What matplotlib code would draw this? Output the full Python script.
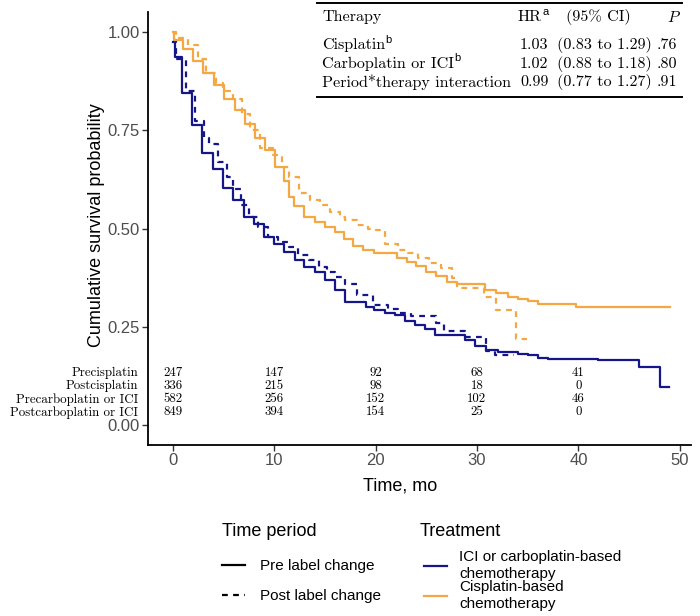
import matplotlib
matplotlib.use('Agg')
import matplotlib.pyplot as plt
from matplotlib.lines import Line2D

plt.rcParams['mathtext.fontset'] = 'cm'

# --- survival curves (time of each drop, survival after the drop) ---
pre_cis_t = [0, 0.1, 1.0, 2.0, 3.0, 4.1, 5.1, 6.1, 7.1, 8.1, 9.1, 10.1, 11.0, 11.5, 12.0, 13.0, 14.0, 15.0,
             16.0, 16.9, 17.8, 18.8, 19.9, 22.1, 23.1, 24.0, 25.0, 26.0, 27.0, 28.0, 30.8, 31.9, 33.1,
             34.0, 35.0, 36.0, 39.8]
pre_cis_s = [1.0, 0.98, 0.955, 0.925, 0.895, 0.865, 0.83, 0.80, 0.765, 0.73, 0.70, 0.655, 0.62, 0.581, 0.556,
             0.530, 0.517, 0.503, 0.492, 0.473, 0.456, 0.445, 0.437, 0.425, 0.415, 0.405, 0.39, 0.38, 0.365,
             0.36, 0.345, 0.335, 0.326, 0.32, 0.316, 0.309, 0.301]
pre_cis_end = 49.0

post_cis_t = [0, 0.3, 1.5, 2.5, 3.3, 4.3, 5.0, 6.0, 6.8, 7.6, 8.6, 9.9, 10.8, 11.5, 12.5, 13.5, 14.5, 15.5,
              16.5, 17.0, 18.2, 19.3, 20.0, 20.9, 22.2, 23.2, 24.2, 25.3, 26.5, 27.5, 28.0, 30.7, 31.9, 33.9]
post_cis_s = [1.0, 0.985, 0.965, 0.93, 0.895, 0.87, 0.85, 0.83, 0.79, 0.75, 0.705, 0.686, 0.657, 0.63, 0.589,
              0.572, 0.560, 0.543, 0.530, 0.522, 0.509, 0.50, 0.496, 0.461, 0.445, 0.437, 0.424, 0.412, 0.40,
              0.373, 0.35, 0.326, 0.293, 0.219]
post_cis_end = 34.9

pre_ici_t = [0, 0.2, 0.9, 1.9, 2.9, 4.0, 5.0, 6.0, 7.0, 8.0, 9.0, 10.0, 11.0, 12.05, 13.0, 14.0, 15.0, 16.0,
             17.0, 19.1, 19.9, 20.9, 21.9, 22.9, 23.9, 24.9, 25.9, 28.8, 29.8, 30.9, 32.1, 34.0, 35.0, 36.0,
             37.0, 41.9, 46.0, 48.0]
pre_ici_s = [0.975, 0.935, 0.844, 0.763, 0.692, 0.651, 0.602, 0.572, 0.530, 0.511, 0.479, 0.46, 0.441, 0.42,
             0.403, 0.39, 0.37, 0.344, 0.314, 0.301, 0.293, 0.286, 0.28, 0.265, 0.255, 0.245, 0.229, 0.216,
             0.201, 0.191, 0.186, 0.182, 0.178, 0.172, 0.168, 0.165, 0.148, 0.098]
pre_ici_end = 48.9

post_ici_t = [0, 0.3, 1.3, 2.2, 3.1, 3.6, 4.5, 5.4, 6.0, 6.7, 7.5, 8.4, 9.4, 10.4, 11.5, 12.4, 13.4, 14.4,
              15.2, 16.0, 17.0, 18.2, 19.8, 21.2, 22.2, 23.5, 26.0, 26.8, 28.8, 30.9, 31.8]
post_ici_s = [0.98, 0.93, 0.85, 0.772, 0.73, 0.714, 0.67, 0.63, 0.60, 0.56, 0.53, 0.503, 0.478, 0.465, 0.453,
              0.433, 0.42, 0.403, 0.39, 0.378, 0.36, 0.331, 0.306, 0.295, 0.285, 0.277, 0.259, 0.24, 0.225,
              0.19, 0.178]
post_ici_end = 33.7

# --- numbers at risk ---
risk_times = [0, 10, 20, 30, 40]
risk_labels = ['Precisplatin', 'Postcisplatin', 'Precarboplatin or ICI', 'Postcarboplatin or ICI']
risk_counts = [[247, 147, 92, 68, 41],
               [336, 215, 98, 18, 0],
               [582, 256, 152, 102, 46],
               [849, 394, 154, 25, 0]]

# --- hazard ratio table ---
hr_header = ['Therapy', 'HR', '(95% CI)', r'$P$']
hr_header_sup = ['', 'a', '', '']
hr_rows = ['Cisplatin', 'Carboplatin or ICI', 'Period*therapy interaction']
hr_rows_sup = ['b', 'b', '']
hr_values = ['1.03', '1.02', '0.99']
hr_ci = ['(0.83 to 1.29)', '(0.88 to 1.18)', '(0.77 to 1.27)']
hr_p = ['.76', '.80', '.91']

blue = '#15168a'
orange = '#f4a742'
sans = ['Liberation Sans', 'DejaVu Sans']
serif = 'cmr10'

fig = plt.figure(figsize=(7, 6.16), dpi=100)
ax = fig.add_axes([0.2114, 0.2776, 0.7757, 0.7029])


def draw_curve(t, s, end, color, ls):
    ax.step(t + [end], s + [s[-1]], where='post', color=color, lw=1.6, linestyle=ls)


dash = (0, (2.6, 2.4))
draw_curve(pre_ici_t, pre_ici_s, pre_ici_end, blue, '-')
draw_curve(post_ici_t, post_ici_s, post_ici_end, blue, dash)
draw_curve(pre_cis_t, pre_cis_s, pre_cis_end, orange, '-')
draw_curve(post_cis_t, post_cis_s, post_cis_end, orange, dash)

ax.set_xlim(-2.43, 51.1)
ax.set_ylim(-0.05, 1.05)
ax.set_xticks([0, 10, 20, 30, 40, 50])
ax.set_yticks([0, 0.25, 0.5, 0.75, 1.0])
ax.set_yticklabels(['0.00', '0.25', '0.50', '0.75', '1.00'])
for s in ['top', 'right']:
    ax.spines[s].set_visible(False)
for s in ['left', 'bottom']:
    ax.spines[s].set_linewidth(1.3)
ax.tick_params(length=4, width=1.0, color='#333333', labelcolor='#4d4d4d', labelsize=12, pad=2)
for lab in ax.get_xticklabels() + ax.get_yticklabels():
    lab.set_family(sans)

ax.set_xlabel('Time, mo', fontsize=13, family=sans)
ax.xaxis.set_label_coords(0.464, -0.076)
ax.set_ylabel('Cumulative survival probability', fontsize=13, family=sans)
ax.yaxis.set_label_coords(-0.08, 0.508)

# numbers at risk inside the plot
risk_y = [0.132, 0.099, 0.066, 0.033]
for i in range(len(risk_labels)):
    ax.text(-0.018, risk_y[i], risk_labels[i], transform=ax.get_yaxis_transform(),
            ha='right', va='center', fontsize=9.3, family=serif, clip_on=False)
    for j in range(len(risk_times)):
        ax.text(risk_times[j], risk_y[i], str(risk_counts[i][j]), ha='center', va='center',
                fontsize=9.3, family=serif)

# hazard ratio table at top right (figure pixels -> fraction)
W, H = 700.0, 616.0


def fx(px):
    return px / W


def fy(py):
    return 1 - py / H


fs_tab = 11.6


def tab_text(px, py, s, sup=''):
    t = fig.text(fx(px), fy(py), s, ha='left', va='center', fontsize=fs_tab, family=serif)
    if sup:
        # small sans superscript just after the word
        fig.texts.append(plt.Annotation(sup, xy=(1, 1), xycoords=t, xytext=(0.2, 2.5), textcoords='offset points',
                                        ha='left', va='top', fontsize=8, family=sans))
        fig.texts[-1].set_figure(fig)
    return t


fig.add_artist(Line2D([fx(317), fx(682)], [fy(3), fy(3)], color='black', lw=1.4))
fig.add_artist(Line2D([fx(317), fx(682)], [fy(97), fy(97)], color='black', lw=1.4))
head_x = [322, 518, 566, 667]
for k in range(len(hr_header)):
    tab_text(head_x[k], 17, hr_header[k], hr_header_sup[k])
row_y = [45, 64, 82]
for i in range(len(hr_rows)):
    tab_text(322, row_y[i], hr_rows[i], hr_rows_sup[i])
    tab_text(520, row_y[i], hr_values[i])
    tab_text(557, row_y[i], hr_ci[i])
    tab_text(657, row_y[i], hr_p[i])

# legends below the plot (titles as separate texts so spacing can follow the reference)
fig.text(fx(222), fy(532), 'Time period', ha='left', va='center', fontsize=13, family=sans)
fig.text(fx(420), fy(532), 'Treatment', ha='left', va='center', fontsize=13, family=sans)

period_handles = [Line2D([], [], color='black', lw=1.6),
                  Line2D([], [], color='black', lw=1.6, linestyle=dash)]
leg1 = fig.legend(period_handles, ['Pre label change', 'Post label change'],
                  loc='upper left', bbox_to_anchor=(fx(222), fy(559)), frameon=False,
                  borderpad=0, borderaxespad=0, handlelength=1.5, handletextpad=1.0,
                  labelspacing=1.05, prop={'family': sans, 'size': 11})

treat_handles = [Line2D([], [], color=blue, lw=1.6), Line2D([], [], color=orange, lw=1.6)]
leg2 = fig.legend(treat_handles, ['ICI or carboplatin-based\nchemotherapy', 'Cisplatin-based\nchemotherapy'],
                  loc='upper left', bbox_to_anchor=(fx(424), fy(550)), frameon=False,
                  borderpad=0, borderaxespad=0, handlelength=1.5, handletextpad=0.8,
                  labelspacing=-0.1, prop={'family': sans, 'size': 11})
for t in leg2.get_texts():
    t.set_linespacing(1.3)

plt.savefig('out.png', dpi=100)
